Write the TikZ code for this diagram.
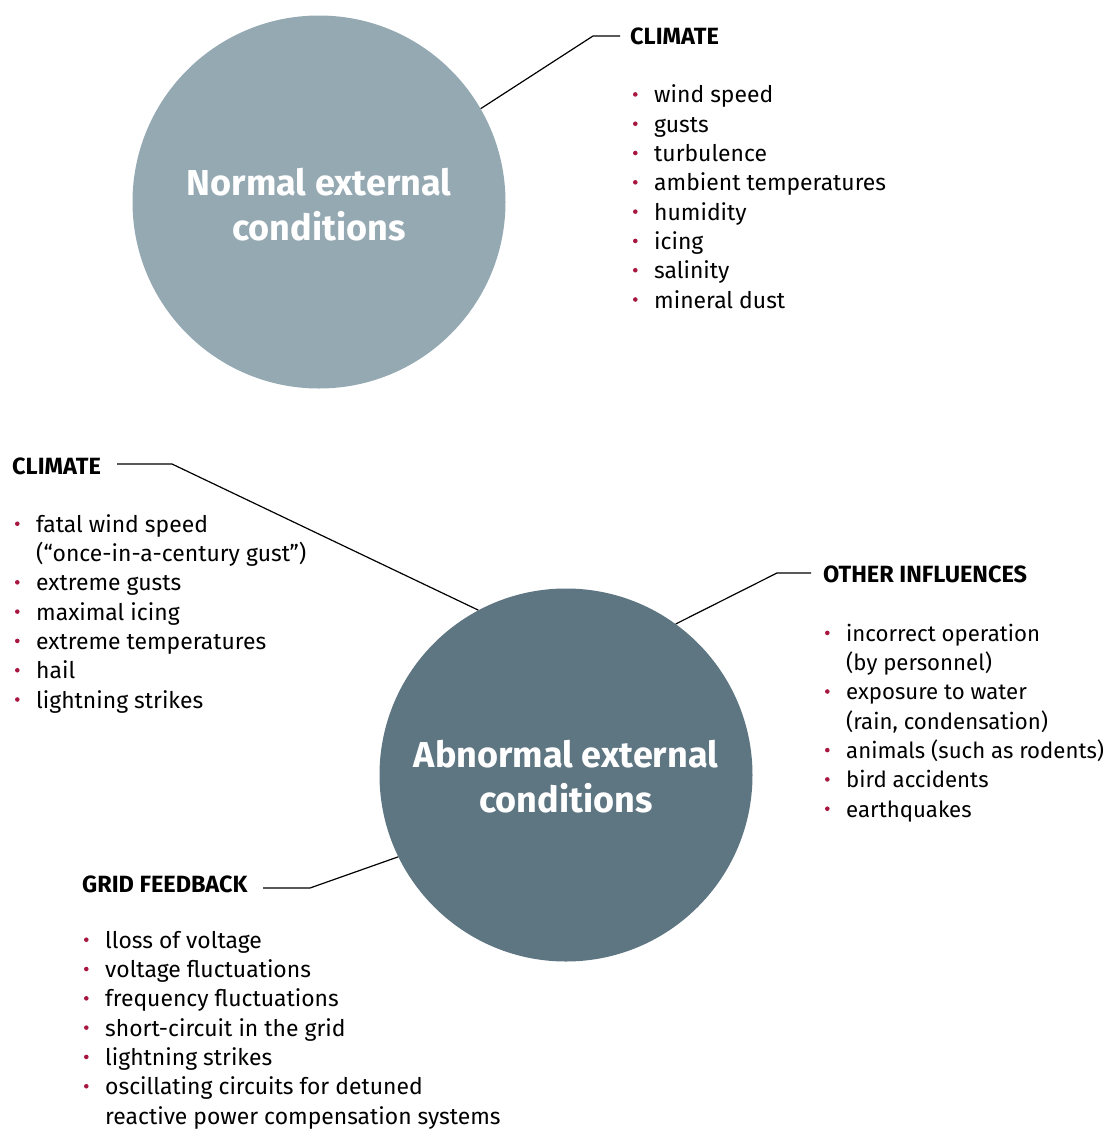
\documentclass[tikz,border=0pt]{standalone}
\usepackage{fontspec}
\setmainfont{Fira Sans}
\definecolor{normalc}{HTML}{95A9B3}
\definecolor{abnormc}{HTML}{5E7582}
\definecolor{bulred}{HTML}{A8173F}
\newcommand{\bul}{\llap{\raisebox{0.27em}{\tikz\fill[bulred](0,0)circle(2.3pt);}\hspace{16.6pt}}}
\begin{document}
\begin{tikzpicture}[x=1pt,y=-1pt,
  circ/.style={circle,minimum size=373pt,inner sep=0pt},
  title/.style={text=white,font=\fontsize{36}{45}\selectfont\bfseries,align=center,anchor=base,inner sep=0pt},
  head/.style={font=\fontsize{23.5}{28}\selectfont\bfseries,anchor=base west,inner sep=0pt},
  lst/.style={font=\fontsize{22.9}{29.3}\selectfont,align=left,anchor=base west,inner sep=0pt},
  lstn/.style={font=\fontsize{22.2}{29.3}\selectfont,align=left,anchor=base west,inner sep=0pt},
  conn/.style={draw=black,line width=1.2pt}]
\useasboundingbox (0,0) rectangle (1108,1130);
\node[circ,fill=normalc] (n) at (319,202) {};
\node[circ,fill=abnormc] (a) at (566,775) {};
\node[title] (nt) at (319,240) {Normal external\\conditions};
\node[title] (at) at (566,812) {Abnormal external\\conditions};

\node[head] (h1) at (630,44) {CLIMATE};
\node[lst] (l1) at (654,308) {\bul wind speed\\\bul gusts\\\bul turbulence\\\bul ambient temperatures\\\bul humidity\\\bul icing\\\bul salinity\\\bul mineral dust};

\node[head] (h2) at (12,474) {CLIMATE};
\node[lst] (l2) at (36,708) {\bul fatal wind speed\\(“once-in-a-century gust”)\\\bul extreme gusts\\\bul maximal icing\\\bul extreme temperatures\\\bul hail\\\bul lightning strikes};

\node[head] (h3) at (823,582) {OTHER INFLUENCES};
\node[lstn] (l3) at (846,817) {\bul incorrect operation\\(by personnel)\\\bul exposure to water\\(rain, condensation)\\\bul animals (such as rodents)\\\bul bird accidents\\\bul earthquakes};

\node[head] (h4) at (82,892) {GRID FEEDBACK};
\node[lst] (l4) at (105,1124) {\bul lloss of voltage\\\bul voltage fluctuations\\\bul frequency fluctuations\\\bul short-circuit in the grid\\\bul lightning strikes\\\bul oscillating circuits for detuned\\reactive power compensation systems};

\coordinate (c1a) at (593,36); \coordinate (c1b) at (620,36);
\draw[conn] (n.30) -- (c1a) -- (c1b);
\coordinate (c2a) at (172,464); \coordinate (c2b) at (117,464);
\draw[conn] (a.118) -- (c2a) -- (c2b);
\coordinate (c3a) at (777,573); \coordinate (c3b) at (811,573);
\draw[conn] (a.54) -- (c3a) -- (c3b);
\coordinate (c4a) at (310,888); \coordinate (c4b) at (263,888);
\draw[conn] (a.206) -- (c4a) -- (c4b);
\end{tikzpicture}
\end{document}
